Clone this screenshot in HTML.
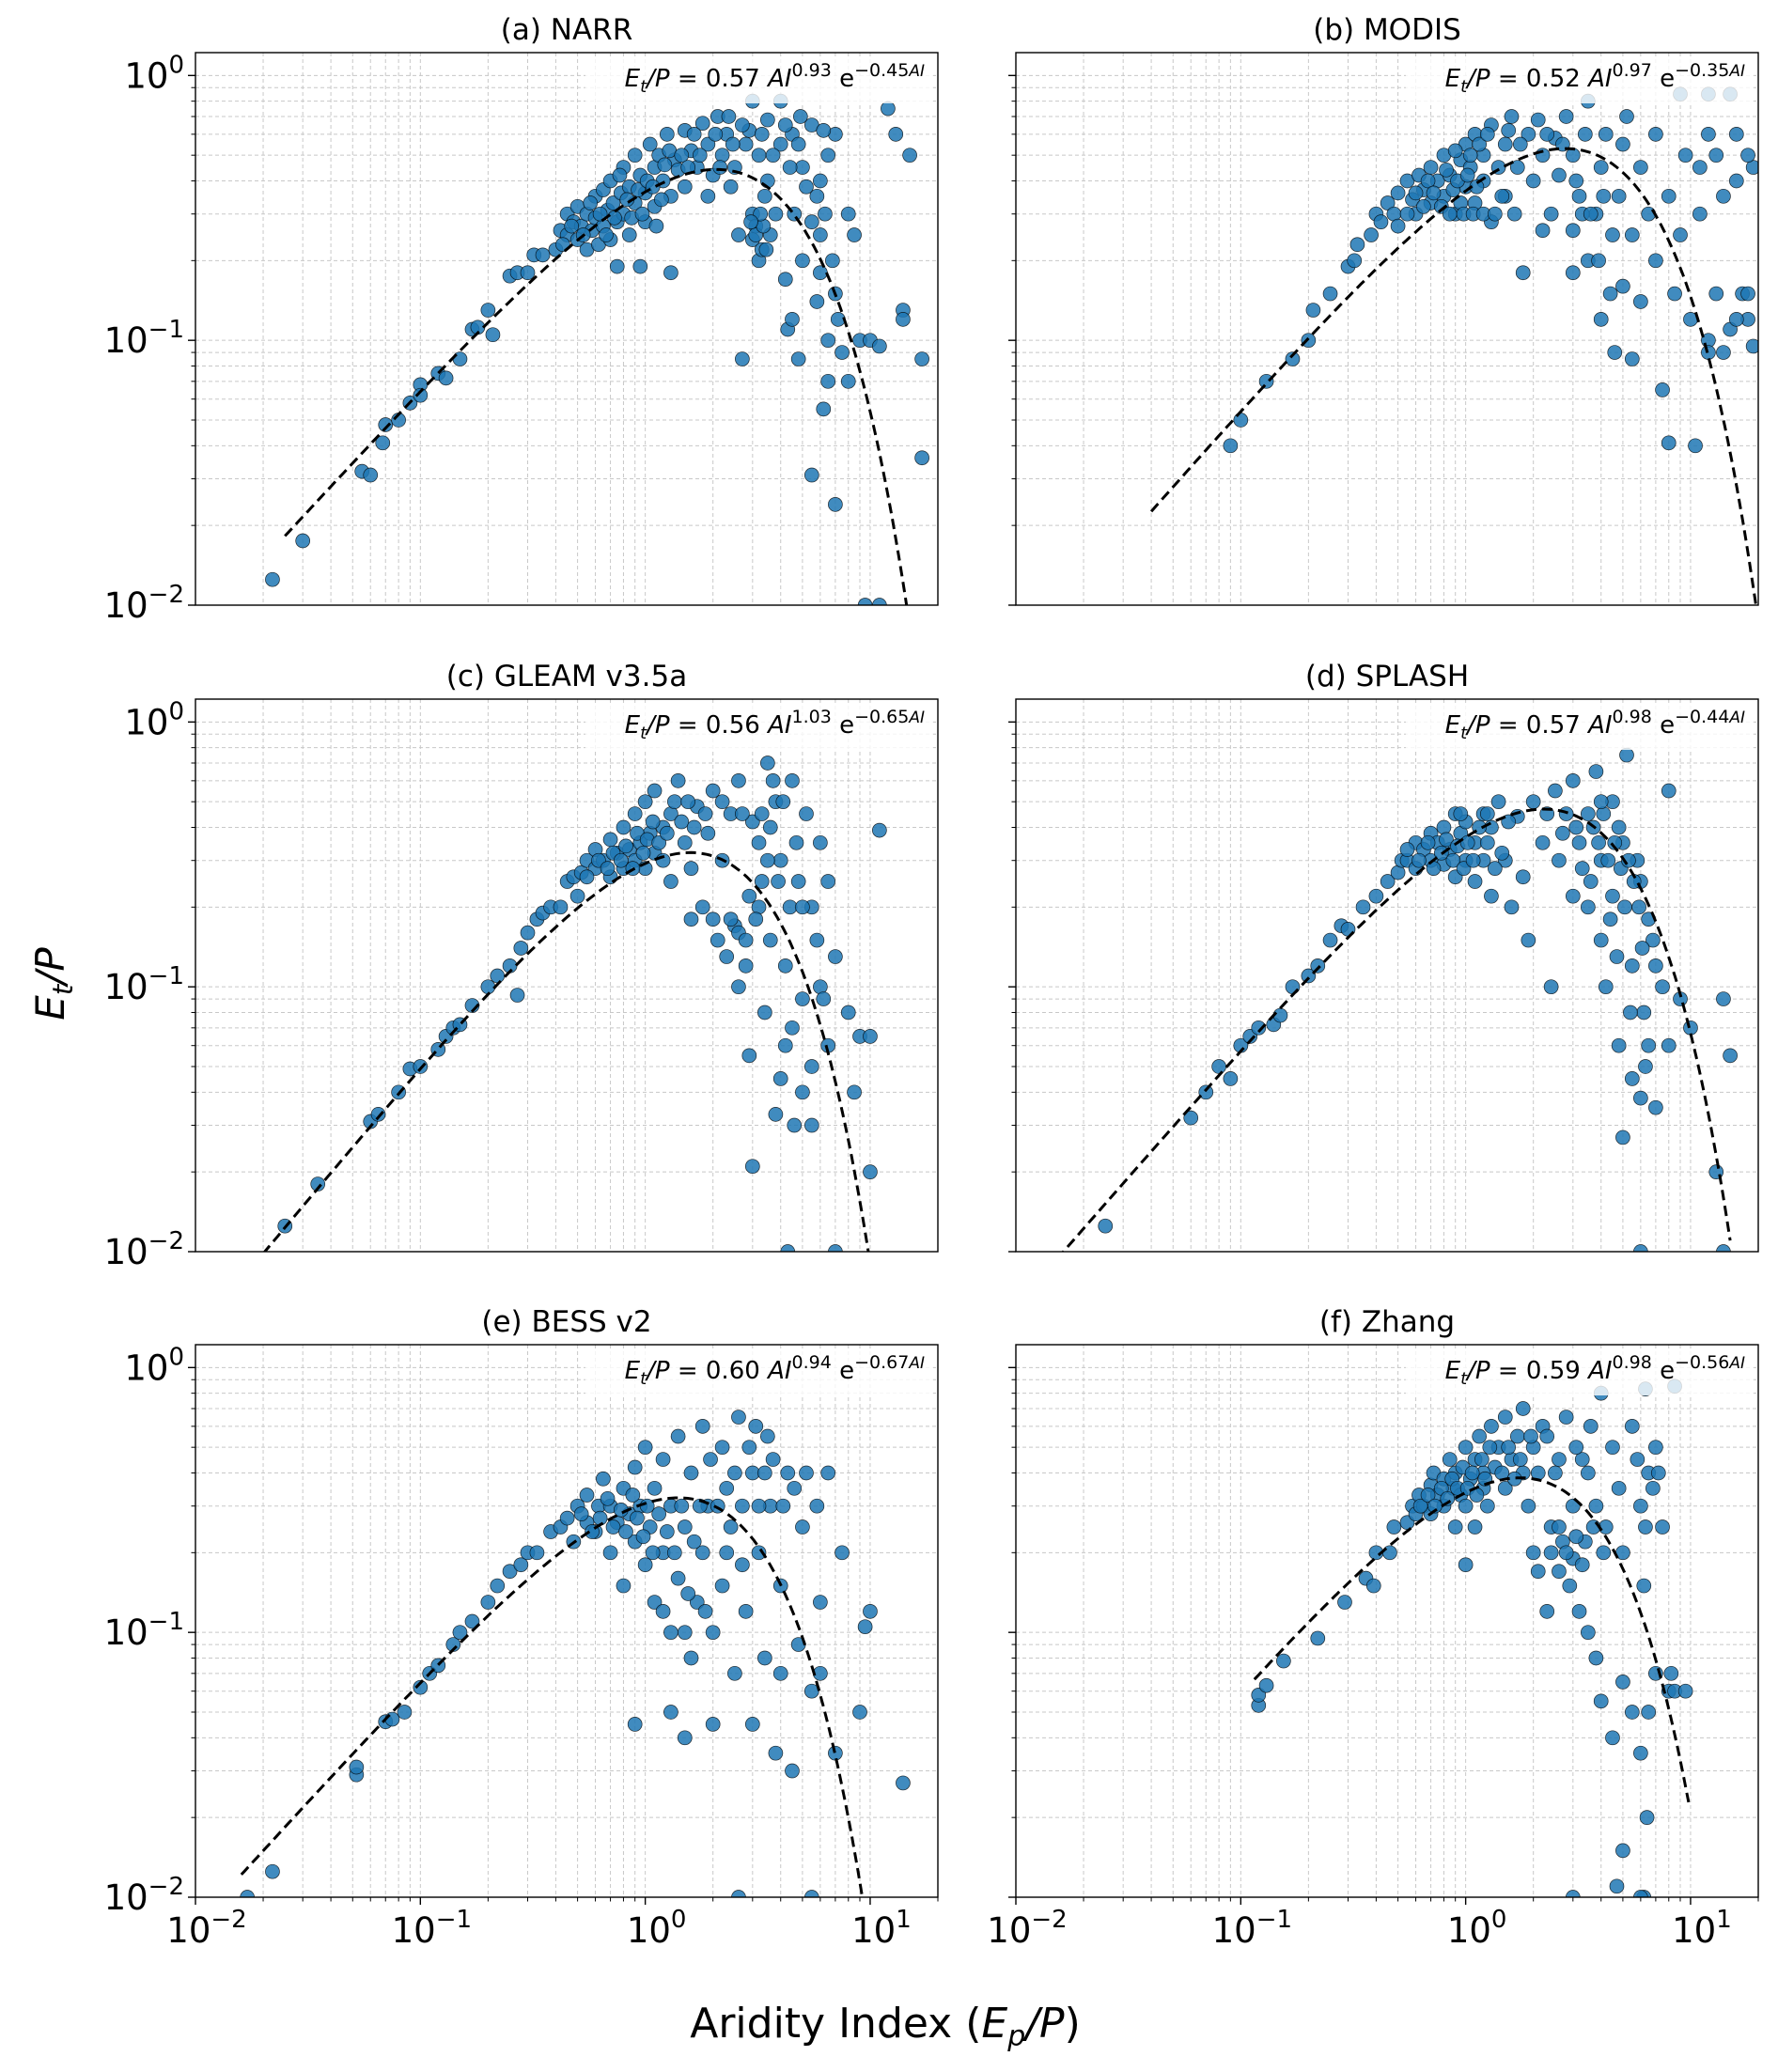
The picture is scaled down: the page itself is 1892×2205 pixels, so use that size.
<!DOCTYPE html>
<html><head><meta charset="utf-8"><title>Et/P vs Aridity Index</title>
<style>
html,body{margin:0;padding:0;background:#fff;}
svg{display:block;font-family:"DejaVu Sans","Liberation Sans",sans-serif;}
</style></head>
<body>
<svg id="fig" width="1892" height="2205" viewBox="0 0 1892 2205" xmlns="http://www.w3.org/2000/svg"></svg>
<script>
// ---- data ----
const panelTitles = ["(a) NARR","(b) MODIS","(c) GLEAM v3.5a","(d) SPLASH","(e) BESS v2","(f) Zhang"];
const fitA = [0.57,0.52,0.56,0.57,0.60,0.59];
const fitB = [0.93,0.97,1.03,0.98,0.94,0.98];
const fitC = [0.45,0.35,0.65,0.44,0.67,0.56];
const fitXmin = [0.025,0.04,0.018,0.008,0.016,0.115];
const fitXmax = [20,20,10,15,10,9.8];
const fitLabelA = ["0.57","0.52","0.56","0.57","0.60","0.59"];
const fitLabelB = ["0.93","0.97","1.03","0.98","0.94","0.98"];
const fitLabelC = ["0.45","0.35","0.65","0.44","0.67","0.56"];
const xTickLabels = ["−2","−1","0","1"];
const yTickLabels = ["0","−1","−2"];

const ptsA = [[0.022,0.0125],[0.03,0.0175],[0.055,0.032],[0.06,0.031],[0.07,0.048],[0.068,0.041],[0.08,0.05],[0.09,0.058],[0.1,0.068],[0.1,0.062],[0.12,0.075],[0.13,0.072],[0.15,0.085],[0.17,0.11],[0.18,0.112],[0.21,0.105],[0.2,0.13],[0.25,0.175],[0.27,0.18],[0.3,0.18],[0.32,0.21],[0.35,0.21],
[0.4,0.22],[0.42,0.26],[0.45,0.25],[0.45,0.3],[0.48,0.28],[0.5,0.24],[0.5,0.32],[0.52,0.27],[0.55,0.22],[0.55,0.3],[0.58,0.26],[0.6,0.35],[0.6,0.29],[0.62,0.23],[0.65,0.27],[0.65,0.37],[0.68,0.31],[0.7,0.24],[0.7,0.4],[0.72,0.33],[0.75,0.28],[0.78,0.36],[0.8,0.3],[0.8,0.45],[0.85,0.25],[0.85,0.38],[0.9,0.33],[0.9,0.5],[0.95,0.42],[1.0,0.28],[1.0,0.36],[1.05,0.55],[1.1,0.45],[1.1,0.32],[1.15,0.5],[1.2,0.4],[1.25,0.6],[1.3,0.35],[1.35,0.48],[1.4,0.44],[1.5,0.62],[1.5,0.38],[1.6,0.52],[1.7,0.45],[1.8,0.66],[1.9,0.55],[2.0,0.42],[2.1,0.7],[2.2,0.5],[2.3,0.6],[2.5,0.45],[2.6,0.25],[2.8,0.55],[3.0,0.8],[3.0,0.3],[3.0,0.24],[3.1,0.27],[3.2,0.2],[3.3,0.22],[3.5,0.68],[3.5,0.4],[3.8,0.3],[4.0,0.8],[4.0,0.55],[4.2,0.17],[4.3,0.11],[4.5,0.12],[4.5,0.6],[4.8,0.085],[5.0,0.2],[5.0,0.45],[5.5,0.65],[5.5,0.031],[5.8,0.35],[6.0,0.25],[6.0,0.18],[6.2,0.055],[6.5,0.1],[6.5,0.07],[6.5,0.5],[7.0,0.024],[7.0,0.15],[7.0,0.6],[7.5,0.09],[8.0,0.07],[8.0,0.3],[8.5,0.25],[9.0,0.1],[9.5,0.01],[11,0.01],[12,0.75],[13,0.6],[14,0.13],[15,0.5],[17,0.036],[17,0.085],[2.7,0.085],[0.95,0.19],[1.3,0.18],[0.75,0.19],[10,0.1],[11,0.095],[14,0.12],[3.4,0.35],[3.6,0.25],[3.2,0.5],[2.4,0.38],[1.9,0.35],[4.6,0.3],[5.2,0.38],[6.8,0.2],[2.9,0.62],
[0.43,0.23],[0.47,0.27],[0.53,0.25],[0.57,0.33],[0.63,0.3],[0.67,0.25],[0.73,0.29],[0.77,0.42],[0.83,0.34],[0.87,0.29],[0.93,0.37],[0.97,0.3],[1.02,0.4],[1.08,0.38],[1.12,0.27],[1.18,0.34],[1.22,0.46],[1.28,0.52],[1.45,0.5],[1.55,0.45],[1.65,0.6],[1.75,0.5],[2.05,0.6],[2.15,0.45],[2.35,0.7],[2.45,0.55],[2.7,0.65],[3.3,0.6],[3.7,0.5],[4.2,0.65],[4.4,0.45],[4.8,0.55],[3.1,0.25],[3.35,0.27],[3.45,0.22],[3.25,0.3],[2.95,0.28],[5.5,0.28],[6.0,0.4],[6.3,0.3],[7.2,0.12],[5.8,0.14],[4.9,0.7],[6.2,0.62]];

const ptsB = [[0.09,0.04],[0.1,0.05],[0.13,0.07],[0.17,0.085],[0.2,0.1],[0.21,0.13],[0.25,0.15],[0.3,0.19],[0.32,0.2],[0.33,0.23],[0.38,0.25],[0.4,0.3],[0.42,0.28],[0.45,0.33],[0.48,0.3],[0.5,0.36],[0.5,0.27],[0.55,0.4],[0.58,0.34],[0.6,0.3],[0.62,0.42],[0.65,0.37],[0.7,0.45],[0.7,0.33],[0.75,0.4],[0.8,0.35],[0.8,0.5],[0.85,0.42],[0.9,0.3],[0.95,0.48],[1.0,0.38],[1.0,0.55],[1.05,0.45],[1.1,0.33],[1.1,0.6],[1.2,0.5],[1.2,0.4],[1.3,0.65],[1.3,0.28],[1.4,0.45],[1.5,0.55],[1.5,0.35],[1.6,0.7],[1.7,0.45],[1.8,0.18],[1.9,0.6],[2.0,0.4],[2.1,0.68],[2.2,0.5],[2.4,0.3],[2.5,0.58],[2.6,0.42],[2.8,0.7],[3.0,0.26],[3.0,0.5],[3.2,0.35],[3.4,0.6],[3.5,0.8],[3.5,0.2],[3.8,0.3],[4.0,0.12],[4.0,0.45],[4.2,0.6],[4.5,0.25],[4.6,0.09],[4.8,0.35],[5.0,0.16],[5.0,0.55],[5.5,0.085],[5.5,0.25],[6.0,0.45],[6.0,0.14],[6.5,0.3],[7.0,0.2],[7.0,0.6],[7.5,0.065],[8.0,0.35],[8.0,0.041],[8.5,0.15],[9.0,0.25],[9.5,0.5],[10.5,0.04],[10,0.12],[11,0.3],[12,0.1],[12,0.6],[13,0.15],[14,0.35],[14,0.09],[15,0.11],[16,0.4],[17,0.15],[18,0.12],[19,0.095],[19,0.45],[12,0.85],[15,0.85],[9,0.85],[3,0.18],[2.2,0.26],[5.2,0.7],
[0.55,0.3],[0.6,0.36],[0.65,0.32],[0.68,0.4],[0.72,0.36],[0.78,0.32],[0.82,0.44],[0.85,0.3],[0.88,0.37],[0.9,0.52],[0.92,0.4],[0.95,0.33],[0.98,0.3],[1.02,0.42],[1.05,0.5],[1.08,0.3],[1.12,0.38],[1.15,0.55],[1.2,0.3],[1.25,0.6],[1.35,0.3],[1.45,0.35],[1.55,0.62],[1.65,0.3],[1.75,0.55],[2.3,0.6],[2.7,0.55],[3.1,0.4],[3.3,0.3],[3.6,0.3],[3.9,0.2],[4.1,0.35],[4.4,0.15],[11,0.45],[13,0.5],[16,0.6],[18,0.5],[12,0.09],[16,0.12],[18,0.15]];

const ptsC = [[0.025,0.0125],[0.035,0.018],[0.06,0.031],[0.065,0.033],[0.08,0.04],[0.09,0.049],[0.1,0.05],[0.12,0.058],[0.13,0.065],[0.14,0.07],[0.15,0.072],[0.17,0.085],[0.2,0.1],[0.22,0.11],[0.25,0.12],[0.28,0.14],[0.3,0.16],[0.33,0.18],[0.35,0.19],[0.38,0.2],[0.27,0.093],[0.42,0.2],[0.45,0.25],[0.48,0.26],[0.5,0.22],[0.52,0.27],[0.55,0.3],[0.6,0.28],[0.6,0.33],[0.65,0.3],[0.7,0.26],[0.7,0.36],[0.75,0.32],[0.8,0.28],[0.8,0.4],[0.85,0.33],[0.9,0.3],[0.9,0.45],[0.95,0.35],[1.0,0.28],[1.0,0.5],[1.05,0.38],[1.1,0.32],[1.1,0.55],[1.2,0.4],[1.2,0.3],[1.3,0.45],[1.3,0.25],[1.4,0.6],[1.5,0.35],[1.6,0.28],[1.7,0.48],[1.8,0.2],[1.9,0.38],[2.0,0.18],[2.0,0.55],[2.1,0.15],[2.2,0.3],[2.3,0.13],[2.4,0.45],[2.5,0.17],[2.6,0.1],[2.6,0.6],[2.8,0.12],[2.9,0.055],[3.0,0.42],[3.0,0.021],[3.2,0.2],[3.4,0.08],[3.5,0.7],[3.6,0.15],[3.8,0.033],[4.0,0.3],[4.0,0.045],[4.2,0.12],[4.3,0.01],[4.5,0.6],[4.5,0.07],[4.8,0.25],[5.0,0.09],[5.0,0.04],[5.2,0.45],[5.5,0.05],[6.0,0.35],[6.0,0.1],[6.5,0.06],[7.0,0.13],[7.0,0.01],[8.0,0.08],[8.5,0.04],[9.0,0.065],[10,0.065],[10,0.02],[11,0.39],[3.8,0.5],[3.2,0.35],[2.9,0.22],[5.5,0.2],[6.5,0.25],[1.6,0.18],
[0.55,0.26],[0.62,0.3],[0.68,0.28],[0.72,0.32],[0.78,0.3],[0.82,0.34],[0.88,0.28],[0.92,0.38],[0.98,0.32],[1.02,0.36],[1.08,0.42],[1.15,0.35],[1.25,0.38],[1.35,0.5],[1.45,0.42],[1.55,0.5],[1.65,0.4],[1.85,0.45],[2.2,0.5],[2.7,0.45],[3.3,0.45],[3.6,0.4],[4.1,0.5],[2.4,0.18],[2.6,0.16],[2.8,0.15],[3.1,0.18],[3.3,0.25],[3.5,0.3],[3.9,0.25],[4.4,0.2],[5.0,0.2],[5.8,0.15],[6.2,0.09],[4.2,0.06],[5.5,0.03],[4.6,0.03],[3.7,0.6],[4.7,0.35]];

const ptsD = [[0.025,0.0125],[0.06,0.032],[0.07,0.04],[0.08,0.05],[0.09,0.045],[0.1,0.06],[0.11,0.065],[0.12,0.07],[0.14,0.072],[0.15,0.078],[0.17,0.1],[0.2,0.11],[0.22,0.12],[0.25,0.15],[0.28,0.17],[0.3,0.165],[0.35,0.2],[0.4,0.22],[0.45,0.25],[0.5,0.27],[0.52,0.3],[0.55,0.3],[0.6,0.35],[0.6,0.28],[0.65,0.33],[0.7,0.38],[0.7,0.3],[0.75,0.35],[0.8,0.4],[0.8,0.29],[0.85,0.33],[0.9,0.45],[0.9,0.26],[0.95,0.38],[1.0,0.3],[1.0,0.42],[1.1,0.35],[1.1,0.25],[1.2,0.45],[1.2,0.3],[1.3,0.22],[1.3,0.4],[1.4,0.5],[1.5,0.3],[1.6,0.2],[1.7,0.44],[1.8,0.26],[1.9,0.15],[2.0,0.5],[2.2,0.35],[2.4,0.1],[2.5,0.55],[2.6,0.3],[2.8,0.45],[3.0,0.6],[3.0,0.22],[3.2,0.35],[3.5,0.45],[3.5,0.2],[3.8,0.65],[4.0,0.3],[4.0,0.15],[4.2,0.1],[4.5,0.22],[4.5,0.5],[4.8,0.06],[5.0,0.35],[5.0,0.027],[5.2,0.75],[5.5,0.12],[5.5,0.045],[6.0,0.25],[6.0,0.038],[6.2,0.08],[6.5,0.06],[6.5,0.18],[7.0,0.035],[7.0,0.12],[7.5,0.1],[8.0,0.55],[8.0,0.06],[9.0,0.09],[10,0.07],[13,0.02],[14,0.09],[15,0.055],[14,0.01],[6.0,0.01],[4.8,0.4],[3.3,0.28],[5.8,0.3],[6.8,0.15],
[0.55,0.33],[0.62,0.3],[0.68,0.35],[0.72,0.28],[0.78,0.32],[0.82,0.36],[0.88,0.3],[0.92,0.34],[0.98,0.28],[1.02,0.35],[1.08,0.3],[1.15,0.4],[1.25,0.35],[1.35,0.28],[1.45,0.32],[1.55,0.42],[1.25,0.45],[0.95,0.45],[3.7,0.4],[3.9,0.35],[4.1,0.45],[4.3,0.3],[4.6,0.35],[4.9,0.28],[5.1,0.2],[5.3,0.3],[5.6,0.25],[5.9,0.2],[6.1,0.14],[3.6,0.25],[4.4,0.18],[4.7,0.13],[5.4,0.08],[6.3,0.05],[4.0,0.5],[3.1,0.4],[2.7,0.38],[2.3,0.45]];

const ptsE = [[0.017,0.01],[0.022,0.0125],[0.052,0.029],[0.052,0.031],[0.07,0.046],[0.075,0.047],[0.085,0.05],[0.1,0.062],[0.11,0.07],[0.12,0.075],[0.14,0.09],[0.15,0.1],[0.17,0.11],[0.2,0.13],[0.22,0.15],[0.25,0.17],[0.28,0.18],[0.3,0.2],[0.33,0.2],[0.38,0.24],[0.42,0.25],[0.45,0.27],[0.48,0.22],[0.5,0.3],[0.55,0.26],[0.55,0.33],[0.6,0.24],[0.62,0.3],[0.65,0.38],[0.7,0.2],[0.7,0.3],[0.75,0.26],[0.8,0.35],[0.8,0.15],[0.85,0.28],[0.9,0.42],[0.9,0.22],[0.95,0.3],[1.0,0.18],[1.0,0.5],[1.05,0.25],[1.1,0.35],[1.1,0.13],[1.2,0.45],[1.2,0.2],[1.3,0.3],[1.3,0.1],[1.4,0.55],[1.4,0.16],[1.5,0.25],[1.6,0.4],[1.6,0.08],[1.7,0.13],[1.8,0.6],[1.8,0.2],[1.9,0.3],[2.0,0.1],[2.0,0.045],[2.2,0.5],[2.2,0.15],[2.4,0.25],[2.5,0.07],[2.6,0.65],[2.6,0.01],[2.8,0.12],[3.0,0.4],[3.0,0.045],[3.2,0.2],[3.4,0.08],[3.5,0.55],[3.6,0.3],[3.8,0.035],[4.0,0.15],[4.0,0.07],[4.3,0.4],[4.5,0.03],[4.8,0.09],[5.0,0.25],[5.5,0.06],[5.5,0.01],[6.0,0.07],[6.0,0.13],[6.5,0.4],[7.0,0.035],[7.5,0.2],[9.0,0.05],[9.5,0.105],[10,0.12],[14,0.027],[1.3,0.05],[1.5,0.04],[0.9,0.045],[2.3,0.35],[3.2,0.3],
[0.52,0.28],[0.58,0.24],[0.63,0.27],[0.68,0.32],[0.72,0.25],[0.78,0.29],[0.82,0.24],[0.88,0.33],[0.92,0.27],[0.98,0.23],[1.02,0.3],[1.08,0.2],[1.15,0.28],[1.25,0.24],[1.35,0.2],[1.45,0.3],[1.55,0.14],[1.65,0.22],[1.75,0.3],[1.85,0.12],[1.95,0.45],[2.1,0.3],[2.3,0.2],[2.5,0.4],[2.7,0.3],[2.9,0.5],[3.1,0.6],[3.4,0.4],[3.7,0.45],[4.1,0.3],[4.6,0.35],[5.2,0.4],[5.8,0.3],[2.7,0.18],[1.2,0.12],[1.5,0.1]];

const ptsF = [[0.12,0.053],[0.12,0.058],[0.13,0.063],[0.155,0.078],[0.22,0.095],[0.29,0.13],[0.36,0.16],[0.39,0.15],[0.4,0.2],[0.46,0.2],[0.48,0.25],[0.55,0.26],[0.58,0.3],[0.6,0.28],[0.62,0.33],[0.65,0.3],[0.7,0.36],[0.7,0.28],[0.72,0.4],[0.75,0.33],[0.8,0.38],[0.8,0.3],[0.85,0.45],[0.88,0.35],[0.9,0.4],[0.95,0.33],[1.0,0.5],[1.0,0.3],[1.0,0.18],[1.05,0.38],[1.1,0.45],[1.1,0.25],[1.15,0.55],[1.2,0.35],[1.25,0.3],[1.3,0.6],[1.35,0.42],[1.4,0.5],[1.5,0.35],[1.5,0.65],[1.6,0.45],[1.7,0.55],[1.8,0.4],[1.8,0.7],[1.9,0.3],[2.0,0.5],[2.0,0.2],[2.1,0.17],[2.2,0.6],[2.3,0.12],[2.4,0.25],[2.5,0.4],[2.6,0.17],[2.7,0.22],[2.8,0.65],[2.9,0.15],[3.0,0.3],[3.0,0.19],[3.2,0.12],[3.3,0.45],[3.4,0.22],[3.5,0.1],[3.6,0.6],[3.8,0.08],[3.8,0.3],[4.0,0.055],[4.0,0.8],[4.2,0.25],[4.5,0.5],[4.5,0.04],[4.8,0.35],[5.0,0.065],[5.0,0.015],[5.0,0.2],[5.5,0.6],[5.5,0.05],[6.0,0.3],[6.0,0.035],[6.2,0.15],[6.4,0.02],[6.5,0.4],[6.5,0.05],[7.0,0.07],[7.0,0.5],[7.5,0.25],[8.0,0.06],[8.2,0.07],[8.5,0.06],[9.5,0.06],[4.7,0.011],[6.2,0.01],[6.0,0.01],[3.0,0.01],[8.5,0.85],[6.3,0.83],[1.2,0.4],[0.9,0.25],
[0.63,0.3],[0.68,0.33],[0.73,0.3],[0.78,0.35],[0.83,0.32],[0.87,0.38],[0.92,0.35],[0.97,0.42],[1.02,0.35],[1.07,0.4],[1.12,0.33],[1.18,0.45],[1.22,0.38],[1.28,0.5],[1.45,0.4],[1.55,0.5],[1.65,0.38],[1.75,0.45],[1.95,0.55],[2.1,0.4],[2.3,0.55],[2.6,0.45],[3.1,0.5],[3.5,0.4],[2.4,0.2],[2.6,0.25],[2.8,0.2],[3.1,0.23],[3.3,0.18],[6.3,0.25],[6.8,0.35],[7.2,0.4],[5.8,0.45],[3.7,0.25],[4.1,0.2]];
const allPts = [ptsA,ptsB,ptsC,ptsD,ptsE,ptsF];

// ---- layout ----
const NS="http://www.w3.org/2000/svg";
const svg=document.getElementById('fig');
const colLeft=[208,1081], pw=790;
const rowTop=[56,744,1431], ph=588;
const xMinL=-2, xMaxL=Math.log10(20), yMinL=-2, yMaxL=Math.log10(1.22);
function mk(tag,attrs,parent){const e=document.createElementNS(NS,tag);for(const k in attrs)e.setAttribute(k,attrs[k]);(parent||svg).appendChild(e);return e;}

for(let p=0;p<6;p++){
  const col=p%2,row=Math.floor(p/2);
  const L=colLeft[col],T=rowTop[row];
  const sx=v=>L+(Math.log10(v)-xMinL)/(xMaxL-xMinL)*pw;
  const sy=v=>T+ph-(Math.log10(v)-yMinL)/(yMaxL-yMinL)*ph;
  const g=mk('g',{});
  
  
  const clipId='clip'+p;
  const cp=mk('clipPath',{id:clipId},g);mk('rect',{x:L,y:T,width:pw,height:ph},cp);
  const grid=mk('g',{stroke:'#c8c8c8','stroke-width':1,'stroke-dasharray':'4,3'},g);
  
  
  for(let d=-2;d<=1;d++)for(let m=1;m<=9;m++){const v=m*Math.pow(10,d);if(v>20)continue;const x=sx(v);mk('line',{x1:x,x2:x,y1:T,y2:T+ph},grid);
    if(row==2){mk('line',{x1:x,x2:x,y1:T+ph,y2:T+ph+(m==1?8:4.5),stroke:'#000','stroke-width':m==1?1.4:1},g);}}
  for(let d=-2;d<=0;d++)for(let m=1;m<=9;m++){const v=m*Math.pow(10,d);if(v>1.22)continue;const y=sy(v);mk('line',{x1:L,x2:L+pw,y1:y,y2:y},grid);
    mk('line',{x1:L-(m==1?8:4.5),x2:L,y1:y,y2:y,stroke:'#000','stroke-width':m==1?1.4:1},g);}
  const pg=mk('g',{'clip-path':'url(#'+clipId+')'},g);
  allPts[p].forEach(pt=>{
    const c=mk('circle',{cx:sx(pt[0]),cy:sy(pt[1]),r:7.5,fill:'#1f77b4','fill-opacity':0.85,stroke:'#000','stroke-width':0.7,'stroke-opacity':0.8},pg);
    
    
  });
  let d='';const n=200;
  for(let i=0;i<=n;i++){const lx=Math.log10(fitXmin[p])+(Math.log10(fitXmax[p])-Math.log10(fitXmin[p]))*i/n;const x=Math.pow(10,lx);
    const y=fitA[p]*Math.pow(x,fitB[p])*Math.exp(-fitC[p]*x);const yy=Math.max(y,1e-4);d+=(i?'L':'M')+sx(x).toFixed(1)+','+sy(yy).toFixed(1);}
  const fl=mk('path',{d:d,fill:'none',stroke:'#000','stroke-width':3,'stroke-dasharray':'11,6','clip-path':'url(#'+clipId+')'},g);
  
  
  mk('rect',{x:L+pw-375,y:T+4,width:370,height:50,fill:'#fff','fill-opacity':0.8},g);
  const eq=mk('text',{x:L+pw-14,y:T+36,'text-anchor':'end','font-size':26},g);
  
  
  eq.innerHTML='<tspan font-style="italic">E</tspan><tspan font-style="italic" font-size="18" dy="6">t</tspan><tspan font-style="italic" dy="-6">/P</tspan> = '+fitLabelA[p]+' <tspan font-style="italic">AI</tspan><tspan font-size="19" dy="-11">'+fitLabelB[p]+'</tspan><tspan dy="11"> e</tspan><tspan font-size="19" dy="-11">−'+fitLabelC[p]+'</tspan><tspan font-size="17" font-style="italic">AI</tspan>';
  const fr=mk('rect',{x:L,y:T,width:pw,height:ph,fill:'none',stroke:'#000','stroke-width':1.4},g);
  
  
  const tt=mk('text',{x:L+pw/2,y:T-14,'text-anchor':'middle','font-size':31},g);
  tt.textContent=panelTitles[p];
  
  
  if(col==0){[0,-1,-2].forEach((e,i)=>{const t=mk('text',{x:L-12,y:sy(Math.pow(10,e))+13,'text-anchor':'end','font-size':37},g);
    t.innerHTML='10<tspan font-size="26" dy="-16">'+yTickLabels[i]+'</tspan>';
    
    });}
  if(row==2){[-2,-1,0,1].forEach((e,i)=>{const t=mk('text',{x:sx(Math.pow(10,e))+12,y:T+ph+48,'text-anchor':'middle','font-size':37},g);
    t.innerHTML='10<tspan font-size="26" dy="-16">'+xTickLabels[i]+'</tspan>';
    
    });}
}
const yl=mk('text',{x:0,y:0,transform:'translate(68,1047) rotate(-90)','text-anchor':'middle','font-size':42});
yl.innerHTML='<tspan font-style="italic">E</tspan><tspan font-style="italic" font-size="29" dy="9">t</tspan><tspan font-style="italic" dy="-9">/P</tspan>';


const xl=mk('text',{x:942,y:2168,'text-anchor':'middle','font-size':44});
xl.innerHTML='Aridity Index (<tspan font-style="italic">E</tspan><tspan font-style="italic" font-size="30" dy="9">p</tspan><tspan font-style="italic" dy="-9">/P</tspan>)';


</script>
</body></html>
